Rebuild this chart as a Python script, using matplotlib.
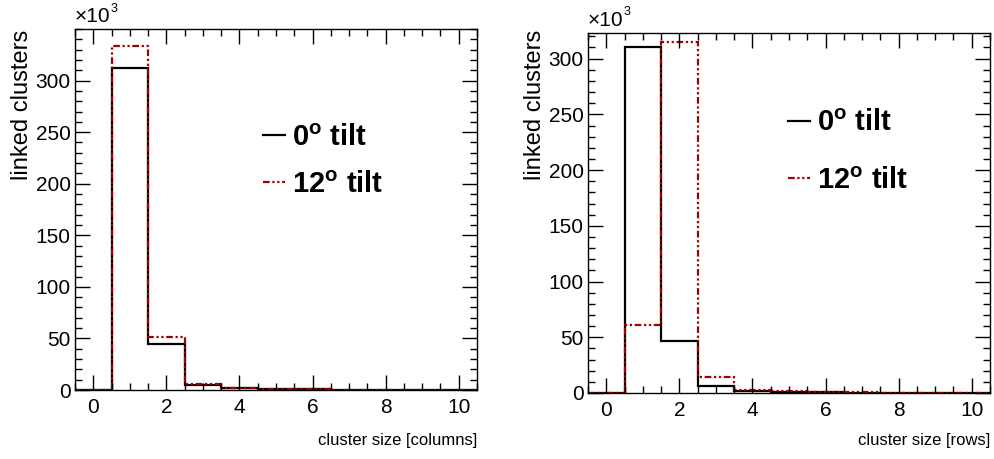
import numpy as np
import matplotlib
matplotlib.use("Agg")
import matplotlib.pyplot as plt
from matplotlib import font_manager
from matplotlib.ticker import MultipleLocator, FixedLocator

# フォント (Narrowがあれば使う)
names = {f.name for f in font_manager.fontManager.ttflist}
fam = "Liberation Sans Narrow" if "Liberation Sans Narrow" in names else "Liberation Sans"
plt.rcParams["font.family"] = [fam, "DejaVu Sans"]
plt.rcParams["mathtext.fontset"] = "custom"
plt.rcParams["mathtext.rm"] = fam + ":bold"

# データ (x10^3)
cluster_size = np.arange(0, 11)
cols_0deg = [0, 312, 45, 5, 2.2, 0.8, 0.6, 0, 0, 0, 0]
cols_12deg = [0, 334, 51, 6, 2.0, 0.8, 0.6, 0, 0, 0, 0]
rows_0deg = [0, 310, 47, 6, 2, 0.8, 0.5, 0.3, 0.2, 0.1, 0.1]
rows_12deg = [0, 61, 315, 14, 3, 1.5, 0.8, 0.5, 0.3, 0.2, 0.2]
labels = ["0$^{\\rm o}$ tilt", "12$^{\\rm o}$ tilt"]
y_major = [0, 50, 100, 150, 200, 250, 300]

edges = np.append(cluster_size - 0.5, cluster_size[-1] + 0.5)
red = "#a00000"
red_ls = (0, (3, 1.2, 1, 1.2, 1, 1.2))

fig = plt.figure(figsize=(9.95, 4.59), dpi=100)
W, H = 995, 459


def px_axes(x0, y0, x1, y1):
    return fig.add_axes([x0 / W, 1 - y1 / H, (x1 - x0) / W, (y1 - y0) / H])


def setup(ax, ymax):
    ax.set_xlim(-0.5, 10.5)
    ax.set_ylim(0, ymax)
    ax.xaxis.set_major_locator(MultipleLocator(2))
    ax.xaxis.set_minor_locator(MultipleLocator(0.5))
    ax.yaxis.set_major_locator(FixedLocator(y_major))
    ax.yaxis.set_minor_locator(MultipleLocator(10))
    ax.tick_params(which="both", direction="in", top=True, right=True, width=1)
    ax.tick_params(which="major", length=11, labelsize=15)
    ax.tick_params(which="minor", length=5)
    ax.tick_params(axis="x", which="major", pad=6)
    ax.tick_params(axis="y", which="major", pad=3)
    for s in ax.spines.values():
        s.set_linewidth(1)


def legend(ax, loc, spacing):
    leg = ax.legend(loc="upper left", bbox_to_anchor=loc, frameon=False,
                    prop={"size": 21, "weight": "bold"}, handlelength=0.75,
                    handletextpad=0.25, labelspacing=spacing, borderaxespad=0)
    return leg


# 左: columns
ax1 = px_axes(75, 29, 477, 390)
ax1.stairs(cols_0deg, edges, color="black", lw=1.6, label=labels[0])
ax1.stairs(cols_12deg, edges, color=red, lw=1.6, ls=red_ls, label=labels[1])
setup(ax1, 350)
legend(ax1, (0.438, 0.77), 0.65)
fig.text(22 / W, 1 - 30 / H, "linked clusters", rotation=90, ha="center", va="top", fontsize=17)
fig.text(477 / W, 1 - 440 / H, "cluster size [columns]", ha="right", va="center", fontsize=12)
fig.text(75 / W, 1 - 17 / H, "×10", ha="left", va="center", fontsize=15)
fig.text(111 / W, 1 - 9 / H, "3", ha="left", va="center", fontsize=9)

# 右: rows
ax2 = px_axes(588, 33, 990, 393)
ax2.stairs(rows_0deg, edges, color="black", lw=1.6, label=labels[0])
ax2.stairs(rows_12deg, edges, color=red, lw=1.6, ls=red_ls, label=labels[1])
setup(ax2, 323)
legend(ax2, (0.468, 0.82), 1.0)
fig.text(535 / W, 1 - 30 / H, "linked clusters", rotation=90, ha="center", va="top", fontsize=17)
fig.text(990 / W, 1 - 440 / H, "cluster size [rows]", ha="right", va="center", fontsize=12)
fig.text(588 / W, 1 - 20 / H, "×10", ha="left", va="center", fontsize=15)
fig.text(624 / W, 1 - 12 / H, "3", ha="left", va="center", fontsize=9)

fig.savefig("out.png", dpi=100)
